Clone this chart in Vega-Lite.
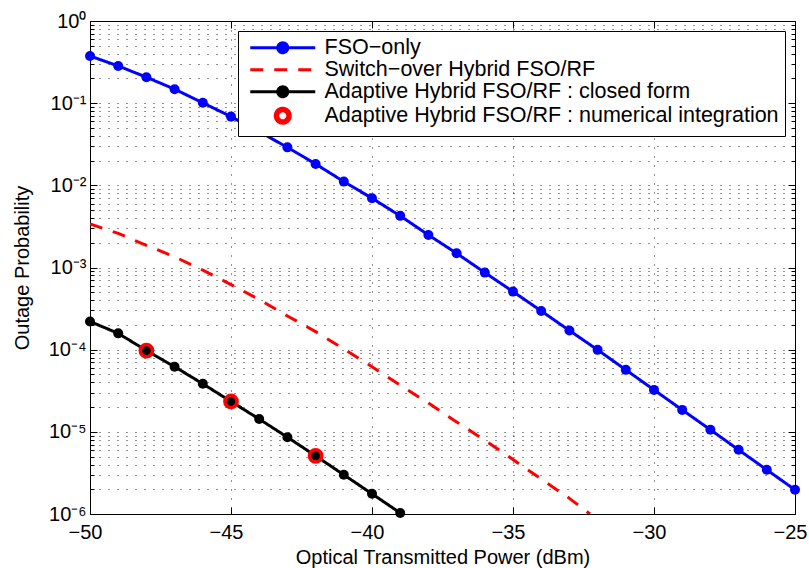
{
  "$schema": "https://vega.github.io/schema/vega-lite/v6.json",
  "width": 705,
  "height": 493,
  "autosize": {"type": "none"},
  "padding": {"left": 90, "top": 21, "right": 14, "bottom": 54},
  "background": "white",
  "config": {
    "view": {"stroke": "black", "strokeWidth": 1},
    "font": "Liberation Sans",
    "axis": {
      "labelFont": "Liberation Sans",
      "titleFont": "Liberation Sans",
      "labelColor": "black",
      "titleColor": "black",
      "titleFontWeight": "normal",
      "tickColor": "black",
      "domain": false
    }
  },
  "datasets": {
    "curves": [
      {"series": "FSO−only", "x": -50, "p": 0.375},
      {"series": "FSO−only", "x": -49, "p": 0.284},
      {"series": "FSO−only", "x": -48, "p": 0.207},
      {"series": "FSO−only", "x": -47, "p": 0.148},
      {"series": "FSO−only", "x": -46, "p": 0.101},
      {"series": "FSO−only", "x": -45, "p": 0.0686},
      {"series": "FSO−only", "x": -44, "p": 0.045},
      {"series": "FSO−only", "x": -43, "p": 0.029},
      {"series": "FSO−only", "x": -42, "p": 0.0182},
      {"series": "FSO−only", "x": -41, "p": 0.0111},
      {"series": "FSO−only", "x": -40, "p": 0.00697},
      {"series": "FSO−only", "x": -39, "p": 0.00425},
      {"series": "FSO−only", "x": -38, "p": 0.00249},
      {"series": "FSO−only", "x": -37, "p": 0.00149},
      {"series": "FSO−only", "x": -36, "p": 0.000867},
      {"series": "FSO−only", "x": -35, "p": 0.000509},
      {"series": "FSO−only", "x": -34, "p": 0.000296},
      {"series": "FSO−only", "x": -33, "p": 0.000171},
      {"series": "FSO−only", "x": -32, "p": 0.0000995},
      {"series": "FSO−only", "x": -31, "p": 0.0000568},
      {"series": "FSO−only", "x": -30, "p": 0.0000324},
      {"series": "FSO−only", "x": -29, "p": 0.0000185},
      {"series": "FSO−only", "x": -28, "p": 0.0000106},
      {"series": "FSO−only", "x": -27, "p": 0.00000604},
      {"series": "FSO−only", "x": -26, "p": 0.00000345},
      {"series": "FSO−only", "x": -25, "p": 0.00000197},
      {"series": "Switch−over Hybrid FSO/RF", "x": -50, "p": 0.00339},
      {"series": "Switch−over Hybrid FSO/RF", "x": -49, "p": 0.0026},
      {"series": "Switch−over Hybrid FSO/RF", "x": -48, "p": 0.00186},
      {"series": "Switch−over Hybrid FSO/RF", "x": -47, "p": 0.00135},
      {"series": "Switch−over Hybrid FSO/RF", "x": -46, "p": 0.00093},
      {"series": "Switch−over Hybrid FSO/RF", "x": -45, "p": 0.00062},
      {"series": "Switch−over Hybrid FSO/RF", "x": -44, "p": 0.000407},
      {"series": "Switch−over Hybrid FSO/RF", "x": -43, "p": 0.000257},
      {"series": "Switch−over Hybrid FSO/RF", "x": -42, "p": 0.000166},
      {"series": "Switch−over Hybrid FSO/RF", "x": -41, "p": 0.000102},
      {"series": "Switch−over Hybrid FSO/RF", "x": -40, "p": 0.000062},
      {"series": "Switch−over Hybrid FSO/RF", "x": -39, "p": 0.000037},
      {"series": "Switch−over Hybrid FSO/RF", "x": -38, "p": 0.0000224},
      {"series": "Switch−over Hybrid FSO/RF", "x": -37, "p": 0.0000132},
      {"series": "Switch−over Hybrid FSO/RF", "x": -36, "p": 0.0000079},
      {"series": "Switch−over Hybrid FSO/RF", "x": -35, "p": 0.0000046},
      {"series": "Switch−over Hybrid FSO/RF", "x": -34, "p": 0.00000266},
      {"series": "Switch−over Hybrid FSO/RF", "x": -33, "p": 0.00000155},
      {"series": "Switch−over Hybrid FSO/RF", "x": -32.27, "p": 0.000001},
      {"series": "Adaptive Hybrid FSO/RF : closed form", "x": -50, "p": 0.00022},
      {"series": "Adaptive Hybrid FSO/RF : closed form", "x": -49, "p": 0.000158},
      {"series": "Adaptive Hybrid FSO/RF : closed form", "x": -48, "p": 0.0000975},
      {"series": "Adaptive Hybrid FSO/RF : closed form", "x": -47, "p": 0.000062},
      {"series": "Adaptive Hybrid FSO/RF : closed form", "x": -46, "p": 0.0000384},
      {"series": "Adaptive Hybrid FSO/RF : closed form", "x": -45, "p": 0.0000234},
      {"series": "Adaptive Hybrid FSO/RF : closed form", "x": -44, "p": 0.0000143},
      {"series": "Adaptive Hybrid FSO/RF : closed form", "x": -43, "p": 0.0000086},
      {"series": "Adaptive Hybrid FSO/RF : closed form", "x": -42, "p": 0.0000051},
      {"series": "Adaptive Hybrid FSO/RF : closed form", "x": -41, "p": 0.000003},
      {"series": "Adaptive Hybrid FSO/RF : closed form", "x": -40, "p": 0.00000176},
      {"series": "Adaptive Hybrid FSO/RF : closed form", "x": -39, "p": 0.00000103}
    ],
    "numerical": [
      {"series": "Adaptive Hybrid FSO/RF : numerical integration", "x": -48, "p": 0.0000975},
      {"series": "Adaptive Hybrid FSO/RF : numerical integration", "x": -45, "p": 0.0000234},
      {"series": "Adaptive Hybrid FSO/RF : numerical integration", "x": -42, "p": 0.0000051}
    ]
  },
  "layer": [
    {
      "data": {"name": "curves"},
      "mark": {"type": "line", "strokeWidth": 3, "clip": true},
      "encoding": {
        "x": {
          "field": "x", "type": "quantitative",
          "scale": {"domain": [-50, -25], "nice": false, "zero": false},
          "axis": {
            "orient": "bottom",
            "values": [-50, -45, -40, -35, -30, -25],
            "format": "d",
            "title": "Optical Transmitted Power (dBm)",
            "titleFontSize": 20,
            "titlePadding": 5,
            "labelFontSize": 20,
            "labelPadding": 15,
            "labelOffset": -5,
            "tickSize": -7,
            "grid": true,
            "gridDash": [1, 8],
            "gridColor": "black",
            "gridOpacity": 0.85,
            "labelOverlap": false,
            "labelFlush": false
          }
        },
        "y": {
          "field": "p", "type": "quantitative",
          "scale": {"type": "log", "domain": [0.000001, 1], "nice": false},
          "axis": {
            "orient": "left",
            "values": [0.000001,0.000002,0.000003,0.000004,0.000005,0.000006,0.000007,0.000008,0.000009,
                       0.00001,0.00002,0.00003,0.00004,0.00005,0.00006,0.00007,0.00008,0.00009,
                       0.0001,0.0002,0.0003,0.0004,0.0005,0.0006,0.0007,0.0008,0.0009,
                       0.001,0.002,0.003,0.004,0.005,0.006,0.007,0.008,0.009,
                       0.01,0.02,0.03,0.04,0.05,0.06,0.07,0.08,0.09,
                       0.1,0.2,0.3,0.4,0.5,0.6,0.7,0.8,0.9,1],
            "labelExpr": "abs(log(datum.value)/LN10 - round(log(datum.value)/LN10)) < 0.000001 ? (round(log(datum.value)/LN10) == 0 ? '10⁰' : '10⁻' + ['', '¹', '²', '³', '⁴', '⁵', '⁶'][-round(log(datum.value)/LN10)]) : ''",
            "title": "Outage Probability",
            "titleFontSize": 20,
            "titlePadding": 16,
            "labelFontSize": 20,
            "labelPadding": 11,
            "tickSize": {"condition": {"test": "abs(log(datum.value)/LN10 - round(log(datum.value)/LN10)) < 0.000001", "value": -7}, "value": -4},
            "grid": true,
            "gridDash": [1, 8],
            "gridColor": "black",
            "gridOpacity": 0.85,
            "labelOverlap": false,
            "labelFlush": false
          }
        },
        "color": {
          "field": "series", "type": "nominal",
          "scale": {
            "domain": ["FSO−only", "Switch−over Hybrid FSO/RF", "Adaptive Hybrid FSO/RF : closed form", "Adaptive Hybrid FSO/RF : numerical integration"],
            "range": ["#0000ff", "#ff0000", "#000000", "#ff0000"]
          },
          "legend": {
            "title": null,
            "orient": "top-right",
            "offset": 10,
            "fillColor": "white",
            "strokeColor": "black",
            "padding": 6,
            "labelFont": "Liberation Sans",
            "labelFontSize": 21.5,
            "labelColor": "black",
            "labelLimit": 0,
            "labelOffset": 59,
            "symbolSize": 100,
            "symbolStrokeWidth": 3,
            "rowPadding": -1,
            "encode": {
              "symbols": {
                "update": {
                  "shape": {"signal": "indexof(datum.value, 'Switch') >= 0 ? 'M-0.9,0L12.1,0' : (indexof(datum.value, 'numerical') >= 0 ? 'M7.1,0A1.5,1.5 0 1,1 4.1,0A1.5,1.5 0 1,1 7.1,0Z M6.6,0A1,1 0 1,0 4.6,0A1,1 0 1,0 6.6,0Z' : 'M-0.9,0L12.1,0M6.6,0A1,1 0 1,1 4.6,0A1,1 0 1,1 6.6,0Z')"},
                  "fill": {"signal": "indexof(datum.value, 'FSO−only') >= 0 ? '#0000ff' : (indexof(datum.value, 'closed') >= 0 ? '#000000' : (indexof(datum.value, 'numerical') >= 0 ? '#ff0000' : 'transparent'))"},
                  "stroke": {"signal": "indexof(datum.value, 'FSO−only') >= 0 ? '#0000ff' : (indexof(datum.value, 'closed') >= 0 ? '#000000' : '#ff0000')"},
                  "strokeDash": {"signal": "indexof(datum.value, 'Switch') >= 0 ? [13, 11] : [1, 0]"},
                  "strokeWidth": {"value": 3},
                  "size": {"value": 100},
                  "opacity": {"value": 1}
                }
              }
            }
          }
        },
        "strokeDash": {
          "field": "series", "type": "nominal",
          "scale": {
            "domain": ["FSO−only", "Switch−over Hybrid FSO/RF", "Adaptive Hybrid FSO/RF : closed form"],
            "range": [[1, 0], [13, 11], [1, 0]]
          },
          "legend": null
        }
      }
    },
    {
      "data": {"name": "curves"},
      "transform": [{"filter": "datum.series !== 'Switch−over Hybrid FSO/RF'"}],
      "mark": {"type": "point", "filled": true, "opacity": 1, "size": 100},
      "encoding": {
        "x": {
          "field": "x", "type": "quantitative",
          "axis": {"orient": "top", "values": [-50, -45, -40, -35, -30, -25], "labels": false, "title": null, "tickSize": -7, "grid": false}
        },
        "y": {
          "field": "p", "type": "quantitative",
          "axis": {
            "orient": "right",
            "values": [0.000001,0.000002,0.000003,0.000004,0.000005,0.000006,0.000007,0.000008,0.000009,
                       0.00001,0.00002,0.00003,0.00004,0.00005,0.00006,0.00007,0.00008,0.00009,
                       0.0001,0.0002,0.0003,0.0004,0.0005,0.0006,0.0007,0.0008,0.0009,
                       0.001,0.002,0.003,0.004,0.005,0.006,0.007,0.008,0.009,
                       0.01,0.02,0.03,0.04,0.05,0.06,0.07,0.08,0.09,
                       0.1,0.2,0.3,0.4,0.5,0.6,0.7,0.8,0.9,1],
            "labels": false, "title": null, "grid": false,
            "tickSize": {"condition": {"test": "abs(log(datum.value)/LN10 - round(log(datum.value)/LN10)) < 0.000001", "value": -7}, "value": -4}
          }
        },
        "color": {"field": "series", "type": "nominal"}
      }
    },
    {
      "data": {"name": "numerical"},
      "mark": {"type": "point", "filled": false, "opacity": 1, "size": 150, "strokeWidth": 3.5},
      "encoding": {
        "x": {"field": "x", "type": "quantitative", "axis": null},
        "y": {"field": "p", "type": "quantitative", "axis": null},
        "color": {"field": "series", "type": "nominal"}
      }
    }
  ],
  "resolve": {"axis": {"x": "independent", "y": "independent"}}
}
